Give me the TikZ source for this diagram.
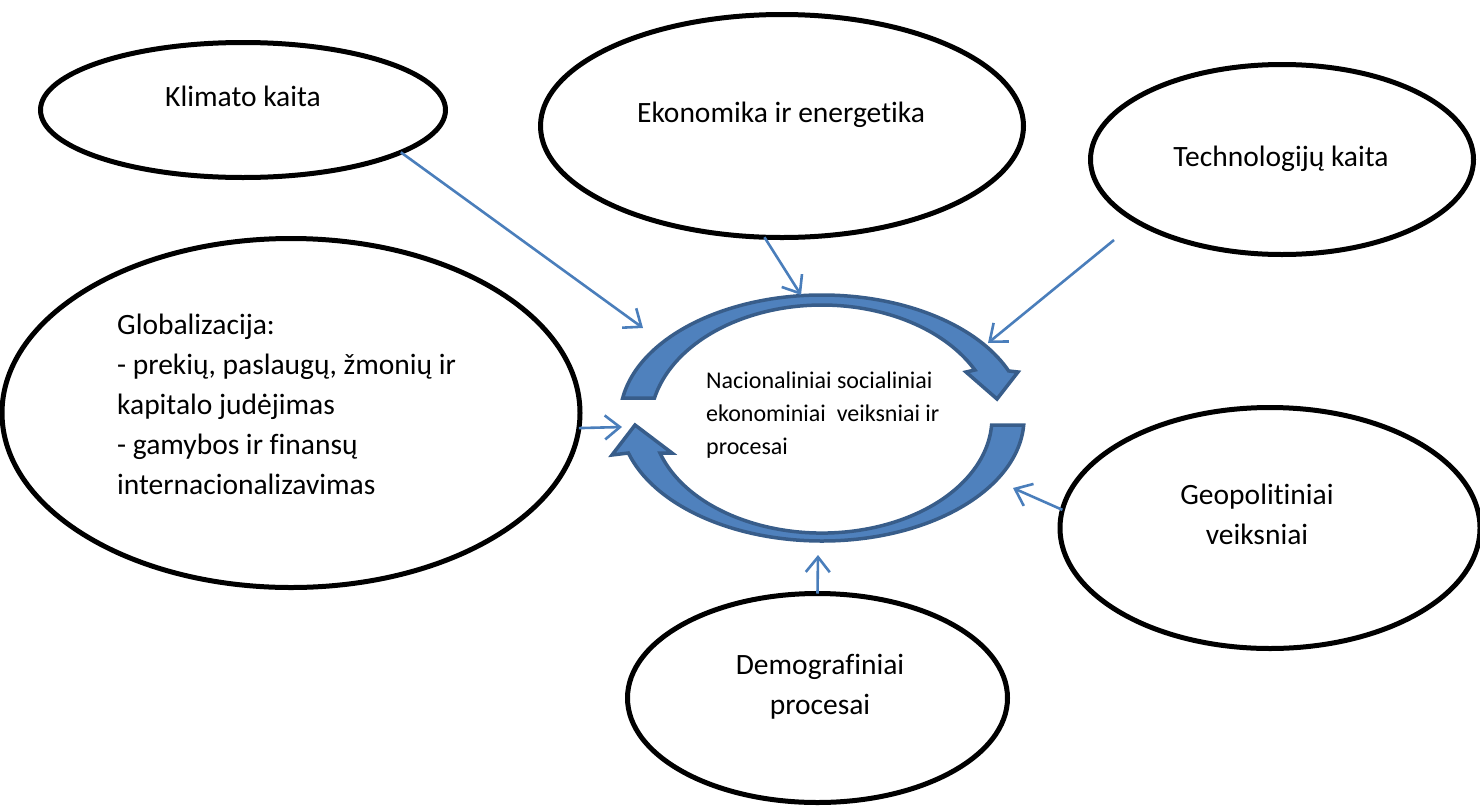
\documentclass[tikz,border=0pt]{standalone}
\usepackage{fontspec}
\setmainfont{Carlito}[Ligatures={NoCommon,NoContextual}]
\usetikzlibrary{shapes.geometric,arrows.meta}
\definecolor{linkblue}{HTML}{4A7EBB}
\definecolor{ringfill}{HTML}{4F81BD}
\definecolor{ringedge}{HTML}{385D8A}
\begin{document}
\begin{tikzpicture}[x=1pt,y=-1pt,
  bubble/.style={ellipse,draw=black,line width=5pt,inner sep=0pt,outer sep=0pt,fill=white},
  bigtext/.style={font=\fontsize{29.5}{40}\selectfont,inner sep=0pt},
  smalltext/.style={font=\fontsize{24}{33}\selectfont,inner sep=0pt},
  link/.style={draw=linkblue,line width=2.6pt,
    -{Straight Barb[length=15pt,width=24pt,line width=2.6pt]}},
  ring/.style={fill=ringfill,draw=ringedge,line width=3.5pt,line join=miter}
]
\useasboundingbox (0,0) rectangle (1480,809);

% outer factor bubbles
\node[bubble,minimum width=405pt,minimum height=135pt] (klim) at (243,110) {};
\node[bubble,minimum width=483pt,minimum height=223pt] (ekon) at (782,126) {};
\node[bubble,minimum width=383pt,minimum height=190pt] (tech) at (1282,159.5) {};
\node[bubble,minimum width=578pt,minimum height=349pt] (glob) at (291,413) {};
\node[bubble,minimum width=420pt,minimum height=241pt] (geo) at (1270,528) {};
\node[bubble,minimum width=380pt,minimum height=209pt] (demo) at (817.5,698) {};

% circular block arrows around the centre
\path[ring] (622.7,398) arc[start angle=189.36, end angle=337.5, x radius=202, y radius=123]
  -- (1018,372) -- (997,399) -- (966,372) -- (974.9,370)
  arc[start angle=332.7, end angle=193.0, x radius=172, y radius=120] -- cycle;
\path[ring] (1023.7,425) arc[start angle=3.26, end angle=163.47, x radius=202, y radius=123]
  -- (612,455) -- (635,425) -- (672,453) -- (660,453)
  arc[start angle=162.3, end angle=3.49, x radius=170, y radius=115] -- cycle;

% arrow targets next to the ring
\coordinate (klimT) at (643,328);
\coordinate (ekonT) at (801,295);
\coordinate (techS) at (1114,240);
\coordinate (techT) at (988,343);
\coordinate (globT) at (622,427);
\coordinate (geoT)  at (1013,488);
\coordinate (demoT) at (818,555);

\draw[link] (klim.-15) -- (klimT);
\draw[link] (ekon.-99) -- (ekonT);
\draw[link] (techS) -- (techT);
\draw[link] (glob.-3) -- (globT);
\draw[link] (geo.175) -- (geoT);
\draw[link] (demo.90) -- (demoT);

% texts (multi-line nodes are placed by the baseline of their last line)
\node[bigtext,anchor=base] (klimL) at (243,106) {Klimato kaita};
\node[bigtext,anchor=base] (ekonL) at (781,122) {Ekonomika ir energetika};
\node[bigtext,anchor=base] (techL) at (1281,166) {Technologijų kaita};
\node[bigtext,anchor=base west,align=left] (globL) at (117,494)
  {Globalizacija:\\- prekių, paslaugų, žmonių ir\\kapitalo judėjimas\\- gamybos ir finansų\\internacionalizavimas};
\node[bigtext,anchor=base,align=center] (geoL) at (1257,544) {Geopolitiniai\\veiksniai};
\node[bigtext,anchor=base,align=center] (demoL) at (820,714) {Demografiniai\\procesai};
\node[smalltext,anchor=base west,align=left] (natL) at (706,454)
  {Nacionaliniai socialiniai\\ekonominiai\ \ veiksniai ir\\procesai};
\end{tikzpicture}
\end{document}
